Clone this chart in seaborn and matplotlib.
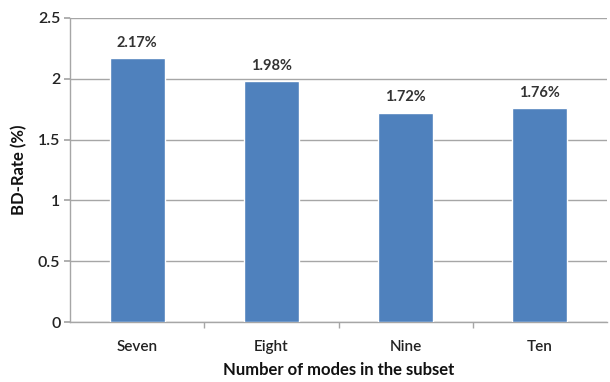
import matplotlib
matplotlib.use("Agg")
import matplotlib.pyplot as plt
import seaborn as sns
import pandas as pd
from matplotlib.ticker import FixedLocator

categories = ["Seven", "Eight", "Nine", "Ten"]
bd_rate = [2.17, 1.98, 1.72, 1.76]
value_labels = ["2.17%", "1.98%", "1.72%", "1.76%"]
y_ticks = [0, 0.5, 1, 1.5, 2, 2.5]
y_tick_labels = ["0", "0.5", "1", "1.5", "2", "2.5"]

sns.set_theme(style="white")
plt.rcParams["font.family"] = ["Lato", "DejaVu Sans"]

df = pd.DataFrame({"subset": categories, "rate": bd_rate})

fig = plt.figure(figsize=(6.10, 3.82), dpi=100)
ax = fig.add_axes([0.115, 0.157, 0.88, 0.796])

sns.barplot(data=df, x="subset", y="rate", color="#4F81BD", saturation=1,
            width=0.41, ax=ax, zorder=3)

ax.set_ylim(0, 2.5)
ax.set_xlim(-0.5, len(categories) - 0.5)
ax.set_yticks(y_ticks)
ax.set_yticklabels(y_tick_labels)
ax.yaxis.grid(True, color="#A6A6A6", linewidth=1.0, zorder=0)
ax.set_axisbelow(True)

for s in ["top", "right"]:
    ax.spines[s].set_visible(False)
for s in ["left", "bottom"]:
    ax.spines[s].set_color("#A6A6A6")
    ax.spines[s].set_linewidth(1.0)

ax.tick_params(axis="y", which="major", left=True, length=4, color="#A6A6A6",
               labelsize=11.5, labelcolor="#222222", pad=3)
ax.tick_params(axis="x", which="major", bottom=False, labelsize=11,
               labelcolor="#222222", pad=7)
for t in ax.get_xticklabels() + ax.get_yticklabels():
    t.set_fontweight("semibold")
ax.xaxis.set_minor_locator(FixedLocator([0.5, 1.5, 2.5]))
ax.tick_params(axis="x", which="minor", bottom=True, length=4, color="#A6A6A6")

for i, (v, lab) in enumerate(zip(bd_rate, value_labels)):
    ax.annotate(lab, (i, v), xytext=(0, 6), textcoords="offset points",
                ha="center", va="bottom", fontsize=10.5, fontweight="bold",
                color="#333333")

ax.set_xlabel("Number of modes in the subset", fontsize=12, fontweight="bold",
              color="#111111", labelpad=6)
ax.set_ylabel("BD-Rate (%)", fontsize=12, fontweight="bold", color="#111111",
              labelpad=8)

fig.savefig("out.png", dpi=100)
